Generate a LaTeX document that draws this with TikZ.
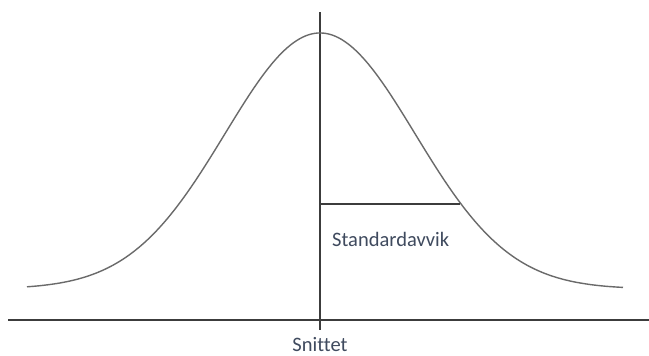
\documentclass[tikz,border=0pt]{standalone}
\usepackage{fontspec}
\setmainfont{Carlito}[Ligatures=NoCommon]
\definecolor{curvecol}{HTML}{6A6A6A}
\definecolor{axiscol}{HTML}{3C3C3C}
\definecolor{labcol}{HTML}{3F4A5E}
\tikzset{
  curve/.style={draw=curvecol, line width=1.4pt},
  axis/.style={draw=axiscol, line width=1.2pt},
  lab/.style={text=labcol, font=\fontsize{20.5}{24}\selectfont, inner sep=0pt}
}
\begin{document}
\begin{tikzpicture}[x=1pt,y=-1pt]
\useasboundingbox[fill=white] (0,0) rectangle (649,356);
% axes
\coordinate (xl) at (8,320);
\coordinate (xr) at (649,320);
\coordinate (vt) at (320,12);
\coordinate (vb) at (320,330);
\draw[axis] (xl) -- (xr);
\draw[axis] (vt) -- (vb);
% bell curve
\draw[curve] plot[domain=27:623, samples=200, smooth]
  (\x, {289-256*exp(-0.5*((\x-320)/95)^2)});
% standard deviation
\coordinate (sd0) at (320,204);
\coordinate (sd1) at (460,204);
\draw[axis] (sd0) -- (sd1);
\node[lab, anchor=base west] (sdlab) at (332,246) {Standardavvik};
\node[lab, anchor=base] (mean) at (320,351) {Snittet};
\end{tikzpicture}
\end{document}
